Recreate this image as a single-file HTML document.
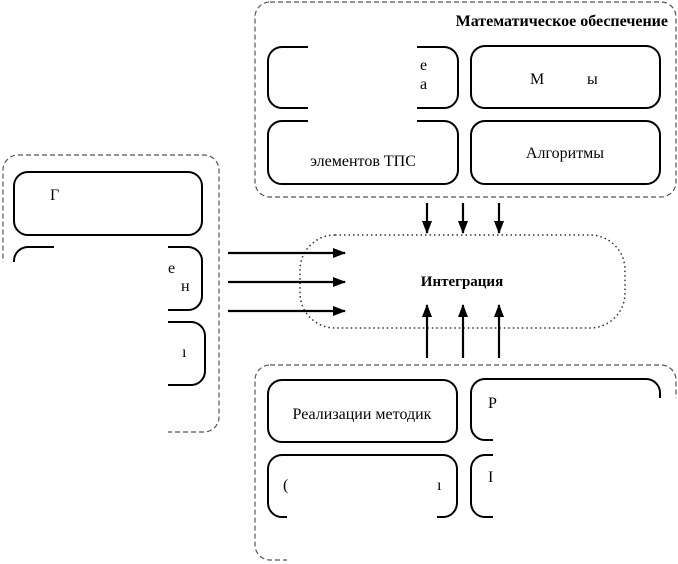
<!DOCTYPE html>
<html><head><meta charset="utf-8"><style>
html,body{margin:0;padding:0;background:#fff;}
svg{display:block;font-family:"Liberation Serif",serif;}
</style></head><body>
<svg width="678" height="564" viewBox="0 0 678 564" xmlns="http://www.w3.org/2000/svg">
<defs><marker id="ah" markerWidth="13" markerHeight="10" refX="12" refY="5" orient="auto" markerUnits="userSpaceOnUse"><path d="M0,0 L13,5 L0,10 z" fill="#000"/></marker></defs>
<g fill="none" stroke="#555" stroke-width="1.2" stroke-dasharray="5,3">
<rect x="255" y="2" width="421" height="195" rx="15"/>
<rect x="3" y="155" width="216" height="277" rx="15"/>
<rect x="255" y="365" width="421" height="195" rx="15"/>
</g>
<rect x="300" y="235" width="325" height="93" rx="35" fill="none" stroke="#333" stroke-width="1.5" stroke-dasharray="1.5,3"/>
<g fill="none" stroke="#000" stroke-width="2">
<rect x="268" y="47" width="190" height="61" rx="14"/>
<rect x="471" y="46" width="189" height="62" rx="14"/>
<rect x="268" y="121" width="190" height="63" rx="14"/>
<rect x="471" y="121" width="189" height="63" rx="14"/>
<rect x="14" y="172" width="188" height="63" rx="14"/>
<rect x="14" y="247" width="188" height="63" rx="14"/>
<rect x="14" y="322" width="191" height="63" rx="14"/>
<rect x="268" y="380" width="189" height="62" rx="14"/>
<rect x="471" y="379" width="189" height="61" rx="14"/>
<rect x="268" y="455" width="189" height="62" rx="14"/>
<rect x="471" y="455" width="189" height="62" rx="14"/>
</g>
<g stroke="#000" stroke-width="2.2" marker-end="url(#ah)">
<line x1="228" y1="253" x2="345" y2="253"/>
<line x1="228" y1="282" x2="345" y2="282"/>
<line x1="228" y1="311" x2="345" y2="311"/>
<line x1="427" y1="203" x2="427" y2="233"/>
<line x1="463" y1="203" x2="463" y2="233"/>
<line x1="499" y1="203" x2="499" y2="233"/>
<line x1="427" y1="358" x2="427" y2="305"/>
<line x1="463" y1="358" x2="463" y2="305"/>
<line x1="499" y1="358" x2="499" y2="305"/>
</g>
<text x="668" y="26" text-anchor="end" font-weight="bold" font-size="16">Математическое обеспечение</text>
<text x="565" y="158" text-anchor="middle" font-size="16">Алгоритмы</text>
<text x="363" y="166" text-anchor="middle" font-size="16">элементов ТПС</text>
<text x="462" y="286" text-anchor="middle" font-weight="bold" font-size="15">Интеграция</text>
<text x="362" y="419" text-anchor="middle" font-size="16">Реализации методик</text>
<g fill="#fff">
<rect x="308" y="42" width="109" height="84"/>
<rect x="305" y="126" width="115" height="29"/>
<rect x="54" y="237" width="114" height="196"/>
<rect x="0" y="262" width="54" height="172"/>
<rect x="493" y="398" width="185" height="166"/>
<rect x="287" y="462" width="150" height="102"/>
<rect x="287" y="520" width="391" height="44"/>
</g>
<text x="530" y="84" font-size="16">М</text>
<text x="587" y="84" font-size="16">ы</text>
<text x="50" y="200" font-size="16">Г</text>
<text x="420" y="70" font-size="16">е</text>
<text x="420" y="89" font-size="16">а</text>
<text x="168" y="273" font-size="16">е</text>
<text x="181" y="291" font-size="16">н</text>
<text x="182" y="357" font-size="16">ı</text>
<text x="283" y="490" font-size="16">(</text>
<text x="437" y="490" font-size="16">ı</text>
<text x="488" y="408" font-size="16">Р</text>
<text x="488" y="482" font-size="16">I</text>
</svg>
</body></html>
